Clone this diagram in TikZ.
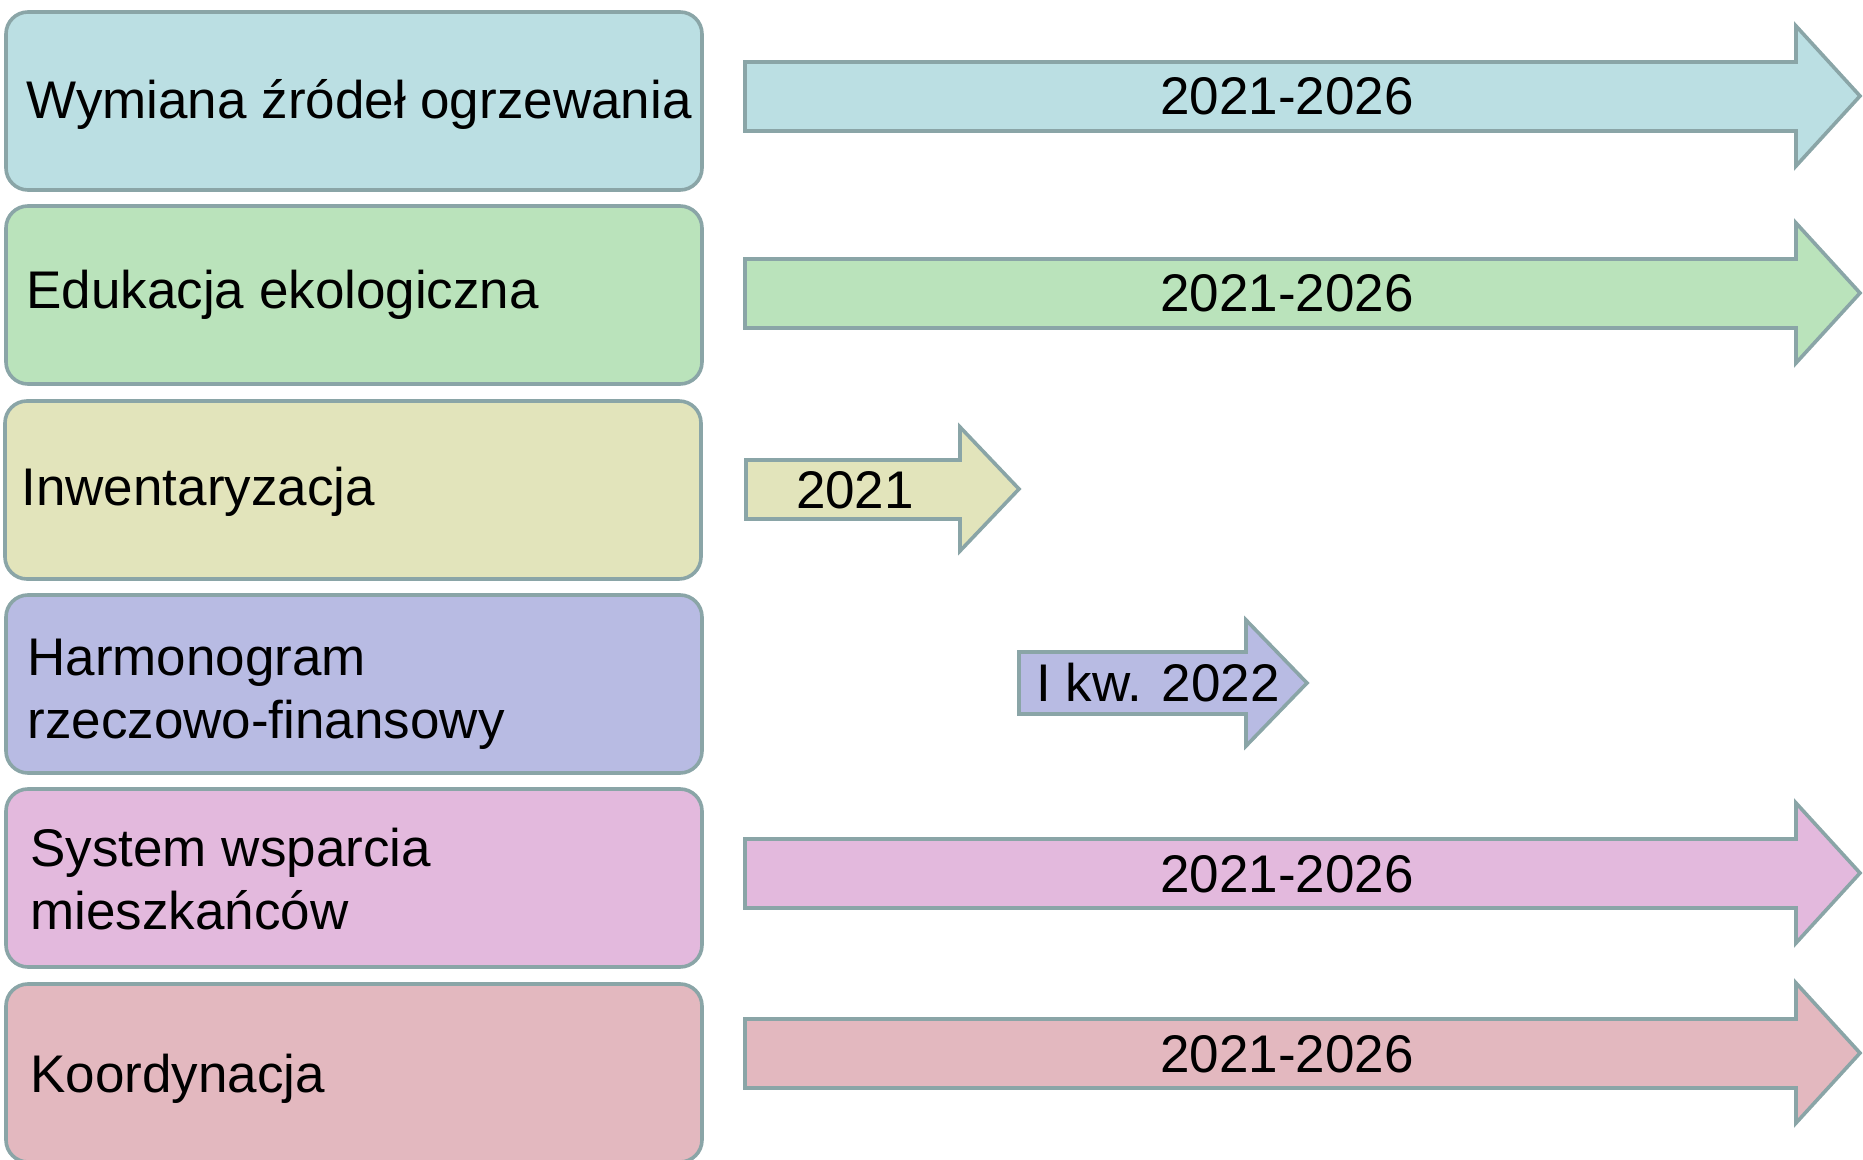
\documentclass[tikz,border=0pt]{standalone}
\usepackage{fontspec}
\setmainfont{Liberation Sans}

\definecolor{edgegray}{HTML}{8AA5A7}
\definecolor{wymc}{HTML}{BBDFE3}
\definecolor{educ}{HTML}{BAE3BB}
\definecolor{invc}{HTML}{E2E4BB}
\definecolor{harc}{HTML}{B8BBE3}
\definecolor{sysc}{HTML}{E3B9DD}
\definecolor{korc}{HTML}{E3B8BF}

\tikzset{
  phase/.style={draw=edgegray, line width=1.8pt, rounded corners=11pt,
    minimum width=348pt, minimum height=89pt, inner sep=0pt},
  phasetext/.style={anchor=base west, align=left, inner sep=0pt,
    font=\fontsize{26.5}{31.5}\selectfont},
  period/.style={draw=edgegray, line width=1.8pt, line join=miter},
  periodtext/.style={inner sep=0pt, font=\fontsize{26.5}{31.5}\selectfont},
}

\begin{document}
\begin{tikzpicture}[x=0.5pt, y=-0.5pt]
    % Fix the page to the size of the original picture
    \useasboundingbox (0,0) rectangle (1863,1160);

    % Task boxes on the left
    \node[phase, fill=wymc] (wym) at (354,101) {};
    \node[phase, fill=educ] (edu) at (354,295) {};
    \node[phase, fill=invc] (inv) at (353,490) {};
    \node[phase, fill=harc] (har) at (354,684) {};
    \node[phase, fill=sysc] (sys) at (354,878) {};
    \node[phase, fill=korc] (kor) at (354,1073) {};

    % Task names (base = baseline of the last line)
    \node[phasetext] (wymtxt) at (26,119) {Wymiana źródeł ogrzewania};
    \node[phasetext] (edutxt) at (26,309) {Edukacja ekologiczna};
    \node[phasetext] (invtxt) at (21,505) {Inwentaryzacja};
    \node[phasetext] (hartxt) at (27,738) {Harmonogram\\rzeczowo-finansowy};
    \node[phasetext] (systxt) at (30,929) {System wsparcia\\mieszkańców};
    \node[phasetext] (kortxt) at (30,1092) {Koordynacja};

    % Period arrows
    \draw[period, fill=wymc] (745,62) -- (1796,62) -- (1796,26) -- (1860,96)
        -- (1796,166) -- (1796,131) -- (745,131) -- cycle;
    \draw[period, fill=educ] (745,259) -- (1796,259) -- (1796,223) -- (1860,293)
        -- (1796,363) -- (1796,328) -- (745,328) -- cycle;
    \draw[period, fill=invc] (746,460) -- (960,460) -- (960,427) -- (1019,489)
        -- (960,551) -- (960,519) -- (746,519) -- cycle;
    \draw[period, fill=harc] (1019,652) -- (1246,652) -- (1246,620) -- (1307,683)
        -- (1246,746) -- (1246,714) -- (1019,714) -- cycle;
    \draw[period, fill=sysc] (745,839) -- (1796,839) -- (1796,803) -- (1860,873)
        -- (1796,943) -- (1796,908) -- (745,908) -- cycle;
    \draw[period, fill=korc] (745,1019) -- (1796,1019) -- (1796,983) -- (1860,1053)
        -- (1796,1123) -- (1796,1088) -- (745,1088) -- cycle;

    % Period labels
    \node[periodtext] (wymdate) at (1287,96) {2021-2026};
    \node[periodtext] (edudate) at (1287,293) {2021-2026};
    \node[periodtext] (invdate) at (855,490) {2021};
    \node[periodtext] (hardate) at (1158,683) {I kw. 2022};
    \node[periodtext] (sysdate) at (1287,874) {2021-2026};
    \node[periodtext] (kordate) at (1287,1054) {2021-2026};
\end{tikzpicture}
\end{document}
